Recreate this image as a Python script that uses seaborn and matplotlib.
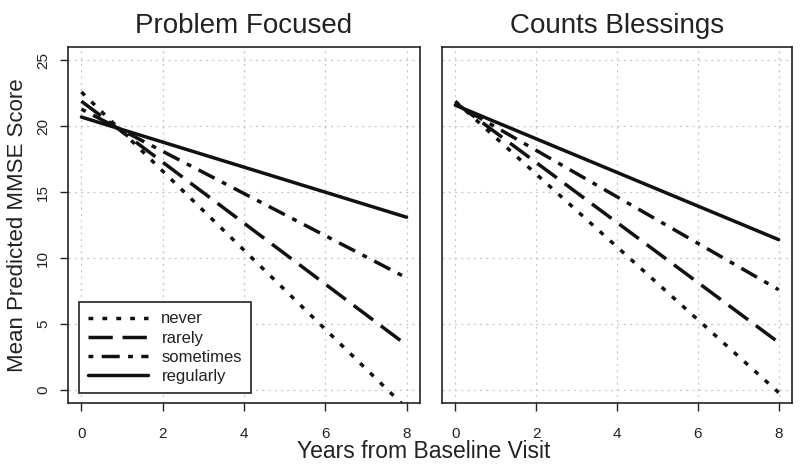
import numpy as np
import pandas as pd
import matplotlib
matplotlib.use("Agg")
import matplotlib.pyplot as plt
import seaborn as sns

sns.set_style("ticks")
plt.rcParams["font.family"] = ["Liberation Sans", "DejaVu Sans"]
plt.rcParams["lines.scale_dashes"] = False

# predicted MMSE at baseline (year 0) and at year 8
years = [0, 8]
levels = ["never", "rarely", "sometimes", "regularly"]
problem_start = [22.6, 21.9, 21.3, 20.7]
problem_end = [-1.4, 3.4, 8.5, 13.1]
blessings_start = [21.9, 21.8, 21.7, 21.6]
blessings_end = [-0.2, 3.6, 7.6, 11.4]
titles = ["Problem Focused", "Counts Blessings"]


def make_frame(starts, ends):
    rows = []
    for lev, s, e in zip(levels, starts, ends):
        rows.append({"years": years[0], "score": s, "freq": lev})
        rows.append({"years": years[1], "score": e, "freq": lev})
    return pd.DataFrame(rows)


frames = [make_frame(problem_start, problem_end),
          make_frame(blessings_start, blessings_end)]

# dash patterns in points (not scaled by width)
dash_map = {"never": (3.5, 6.5), "rarely": (17.5, 7), "sometimes": (3.5, 6, 13, 6),
            "regularly": ""}
LW = 2.5

fig = plt.figure(figsize=(8, 4.72), dpi=100)
ax1 = fig.add_axes([0.085, 0.146, 0.44, 0.754])
ax2 = fig.add_axes([0.5525, 0.146, 0.4375, 0.754])

for i, (ax, df) in enumerate(zip([ax1, ax2], frames)):
    sns.lineplot(data=df, x="years", y="score", style="freq", style_order=levels,
                 dashes=dash_map, color="#111111", linewidth=LW, ax=ax,
                 legend=(i == 0))
    ax.set_xlim(-0.33, 8.33)
    ax.set_ylim(-1.0, 26.0)
    ax.set_xticks([0, 2, 4, 6, 8])
    ax.set_yticks([0, 5, 10, 15, 20, 25])
    ax.grid(True, color="#c8c8c8", linestyle=(0, (1.5, 3)), linewidth=0.9)
    ax.set_axisbelow(True)
    for sp in ax.spines.values():
        sp.set_linewidth(1.2)
        sp.set_color("#222222")
    ax.tick_params(direction="out", length=6, width=1, labelsize=11,
                   colors="#222222", pad=11)
    ax.set_title(titles[i], fontsize=20, color="#222222", pad=10)
    ax.set_xlabel("")
    ax.set_ylabel("")

for lab in ax1.get_yticklabels():
    lab.set_rotation(90)
    lab.set_va("center")
ax1.tick_params(axis="y", pad=7)
ax1.set_ylabel("Mean Predicted MMSE Score", fontsize=16, color="#222222", labelpad=6)
ax2.tick_params(axis="y", left=False, labelleft=False)

handles, labels = ax1.get_legend_handles_labels()
leg = ax1.legend(handles, labels, loc="lower left", bbox_to_anchor=(0.031, 0.028),
                 borderaxespad=0, fontsize=12, handlelength=3.6,
                 handletextpad=0.8, labelspacing=0.25, fancybox=False,
                 framealpha=1, edgecolor="#222222", borderpad=0.55)
leg.get_frame().set_linewidth(1.2)
for t in leg.get_texts():
    t.set_color("#222222")
for h in leg.get_lines():
    h.set_linewidth(LW)

fig.text(0.53, 0.02, "Years from Baseline Visit", ha="center", va="bottom",
         fontsize=16.5, color="#222222")

fig.savefig("out.png", dpi=100)
